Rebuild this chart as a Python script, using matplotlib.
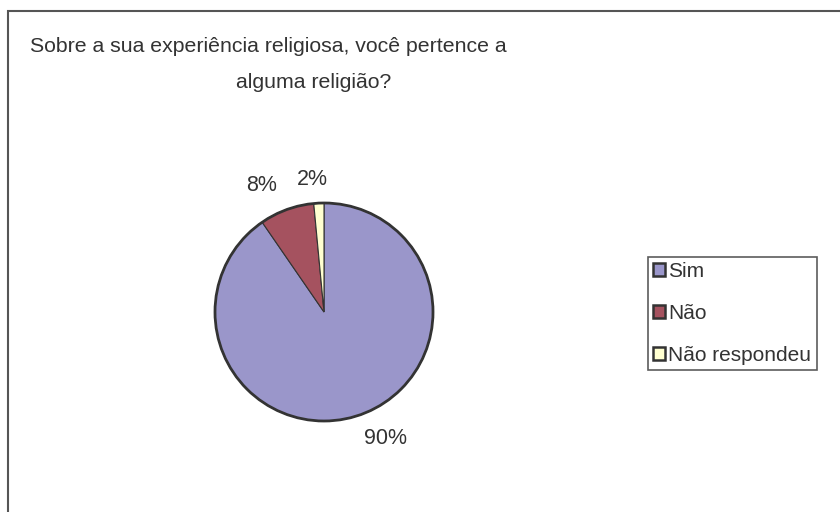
import matplotlib.pyplot as plt
from matplotlib.patches import Rectangle

# dados
categorias = ["Sim", "Não", "Não respondeu"]
valores = [90.4, 8.1, 1.5]
rotulos = ["90%", "8%", "2%"]
cores = ["#9A96CA", "#A5525F", "#FFFFD0"]
# posição dos rótulos (em raios do pie)
pos_rotulos = [(0.56, -1.165), (-0.57, 1.165), (-0.105, 1.22)]

plt.rcParams['font.family'] = ['Liberation Sans', 'DejaVu Sans']
cinza = "#333333"

fig = plt.figure(figsize=(8.4, 5.12), dpi=100)

# moldura externa
fig.patches.append(Rectangle((7.5 / 840, -0.1), 1.2, 1 - 10.5 / 512 + 0.1,
                             transform=fig.transFigure, fill=False,
                             edgecolor="#555555", linewidth=1.5))

fig.text(268.5 / 840, 1 - 47 / 512, "Sobre a sua experiência religiosa, você pertence a",
         ha="center", va="center", fontsize=15.3, color=cinza)
fig.text(313.5 / 840, 1 - 82 / 512, "alguma religião?",
         ha="center", va="center", fontsize=15.3, color=cinza)

r = 109
cx, cy = 324, 312
ax = fig.add_axes([(cx - 1.5 * r) / 840, (512 - cy - 1.5 * r) / 512, 3 * r / 840, 3 * r / 512])
wedges, _ = ax.pie(valores, colors=cores, startangle=90, counterclock=False,
                   wedgeprops=dict(edgecolor=cinza, linewidth=0.8))
ax.add_patch(plt.Circle((0, 0), 1, fill=False, edgecolor=cinza, linewidth=2))
for (x, y), t in zip(pos_rotulos, rotulos):
    ax.text(x, y, t, ha="center", va="center", fontsize=15.5, color=cinza)
ax.set_xlim(-1.5, 1.5)
ax.set_ylim(-1.5, 1.5)
ax.axis("off")

handles = [Rectangle((0, 0), 1, 1, facecolor=c, edgecolor=cinza, linewidth=1.8) for c in cores]
leg = fig.legend(handles, categorias, loc="upper left",
                 bbox_to_anchor=(648 / 840, 1 - 257 / 512), fontsize=15,
                 frameon=True, fancybox=False, handlelength=0.58, handleheight=0.58,
                 handletextpad=0.15, labelspacing=1.1, borderpad=0.25, borderaxespad=0,
                 labelcolor=cinza)
leg.get_frame().set_edgecolor(cinza)
leg.get_frame().set_linewidth(1.2)

fig.savefig("out.png", dpi=100)
